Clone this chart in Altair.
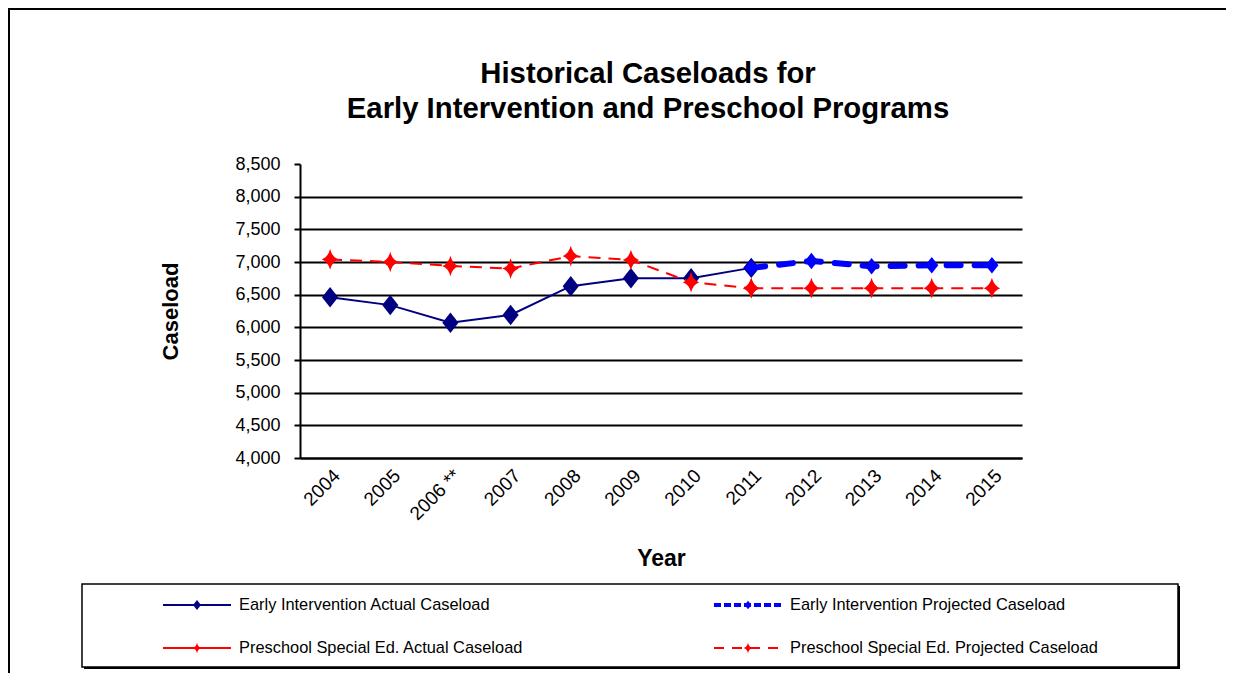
import altair as alt
import pandas as pd

# ---------------- data ----------------
years = ["2004", "2005", "2006 **", "2007", "2008", "2009", "2010",
         "2011", "2012", "2013", "2014", "2015"]
ei_actual = [6460, 6340, 6070, 6190, 6630, 6750, 6750, 6910,
             None, None, None, None]
ei_projected = [None, None, None, None, None, None, None,
                6910, 7015, 6935, 6950, 6950]
ps_actual = [7040, 7000, 6940, 6900, 7090, 7030, 6690, 6600,
             None, None, None, None]
ps_projected = [None, None, None, None, None, None, None,
                6600, 6600, 6600, 6600, 6600]
series_names = ["Early Intervention Actual Caseload",
                "Early Intervention Projected Caseload",
                "Preschool Special Ed. Actual Caseload",
                "Preschool Special Ed. Projected Caseload"]
y_ticks = [4000, 4500, 5000, 5500, 6000, 6500, 7000, 7500, 8000, 8500]
title_lines = ["Historical Caseloads for",
               "Early Intervention and Preschool Programs"]

FONT = "Liberation Sans, Arial, sans-serif"
W, H = 722, 294
PAD = {"left": 292, "top": 156, "right": 204, "bottom": 215}


def frame(values):
    return pd.DataFrame({"year": years, "value": values,
                         "order": list(range(len(years)))}).dropna()


x_enc = alt.X("year:N", sort=years,
              scale=alt.Scale(type="point", padding=0.5),
              axis=alt.Axis(title="Year", titleFontSize=23, titleFont=FONT,
                            titleFontWeight="bold", titleColor="black",
                            titlePadding=24,
                            labelAngle=-45, labelFontSize=19, labelFont=FONT,
                            labelColor="black", labelPadding=8,
                            ticks=False, domainColor="black", domainWidth=2,
                            grid=False))
y_enc = alt.Y("value:Q",
              scale=alt.Scale(domain=[4000, 8500], nice=False, zero=False),
              axis=alt.Axis(title="Caseload", values=y_ticks, format=",.0f",
                            titleFontSize=22, titleFont=FONT,
                            titleFontWeight="bold", titleColor="black",
                            titlePadding=52,
                            labelFontSize=18, labelFont=FONT, labelColor="black",
                            labelPadding=14, tickSize=6, tickColor="black",
                            tickWidth=2, domainColor="black", domainWidth=2,
                            grid=True, gridColor="black", gridWidth=2,
                            gridOpacity={"condition": {"test": "datum.value >= 8500",
                                                       "value": 0},
                                         "value": 1}))

DIAMOND = "M0,-1.2L0.95,0L0,1.2L-0.95,0Z"
STAR_DIAMOND = "M0,-1.25Q0.25,-0.25 1,0Q0.25,0.25 0,1.25Q-0.25,0.25 -1,0Q-0.25,-0.25 0,-1.25Z"


def series_layers(values, color, width, dash, shape, size, cap="butt"):
    d = frame(values)
    base = alt.Chart(d).encode(x=x_enc, y=y_enc, order="order:Q")
    line_kw = dict(color=color, strokeWidth=width, strokeCap=cap)
    if dash:
        line_kw["strokeDash"] = dash
    line = base.mark_line(**line_kw)
    pts = base.mark_point(shape=shape, size=size, filled=True, color=color,
                          opacity=1)
    return [line, pts]


layers = []
layers += series_layers(ei_actual, "#000080", 2, None, DIAMOND, 290)
layers += series_layers(ei_projected, "#0000FF", 6, [14, 14], DIAMOND, 190,
                        cap="round")
layers += series_layers(ps_actual, "#FF0000", 2, [12, 8], STAR_DIAMOND, 270)
layers += series_layers(ps_projected, "#FF0000", 2, [12, 8], STAR_DIAMOND, 270)

one = pd.DataFrame({"k": [0]})

# title (two lines, centred over the chart)
for j, line_text in enumerate(title_lines):
    layers.append(alt.Chart(pd.DataFrame({"t": [line_text]})).mark_text(
        align="center", baseline="alphabetic", font=FONT, fontSize=29.3,
        fontWeight="bold", color="black").encode(
        x=alt.value(348), y=alt.value(-81 + 35 * j), text="t:N"))

# outer chart border (top and left)
layers.append(alt.Chart(one).mark_rule(color="black", strokeWidth=2).encode(
    x=alt.value(-292), x2=alt.value(W + PAD["right"]), y=alt.value(-155)))
layers.append(alt.Chart(one).mark_rule(color="black", strokeWidth=2).encode(
    x=alt.value(-291), y=alt.value(-156), y2=alt.value(H + PAD["bottom"])))

# legend box with shadow
LX0, LX1, LY0, LY1 = -218, 878, 420, 503
layers.append(alt.Chart(one).mark_rect(color="black").encode(
    x=alt.value(LX0 + 2), x2=alt.value(LX1 + 2),
    y=alt.value(LY0 + 2), y2=alt.value(LY1 + 2)))
layers.append(alt.Chart(one).mark_rect(fill="white", stroke="black",
                                       strokeWidth=1.5).encode(
    x=alt.value(LX0), x2=alt.value(LX1), y=alt.value(LY0), y2=alt.value(LY1)))

legend_style = [
    ("#000080", 2, None, DIAMOND, 70, "butt"),
    ("#0000FF", 4, [7, 3], DIAMOND, 50, "butt"),
    ("#FF0000", 2, None, STAR_DIAMOND, 70, "butt"),
    ("#FF0000", 2, [10, 8], STAR_DIAMOND, 70, "butt"),
]
col_x = [-137, 414]
row_y = [441, 484]
for i, name in enumerate(series_names):
    color, sw, dash, shape, msize, cap = legend_style[i]
    cx = col_x[i % 2]
    cy = row_y[i // 2]
    dfl = pd.DataFrame({"label": [name]})
    rule_kw = dict(color=color, strokeWidth=sw, strokeCap=cap)
    if dash:
        rule_kw["strokeDash"] = dash
    layers.append(alt.Chart(dfl).mark_rule(**rule_kw).encode(
        x=alt.value(cx), x2=alt.value(cx + 68), y=alt.value(cy)))
    layers.append(alt.Chart(dfl).mark_point(shape=shape, size=msize, filled=True,
                                            color=color, opacity=1).encode(
        x=alt.value(cx + 34), y=alt.value(cy)))
    layers.append(alt.Chart(dfl).mark_text(align="left", baseline="middle",
                                           font=FONT, fontSize=16.4,
                                           color="black").encode(
        x=alt.value(cx + 76), y=alt.value(cy), text="label:N"))

chart = alt.layer(*layers).properties(
    width=W, height=H,
    autosize=alt.AutoSizeParams(type="none"),
    padding=PAD,
    background="white",
).configure_view(stroke=None)

chart.save("out.html", embed_options={"renderer": "svg", "actions": False})
